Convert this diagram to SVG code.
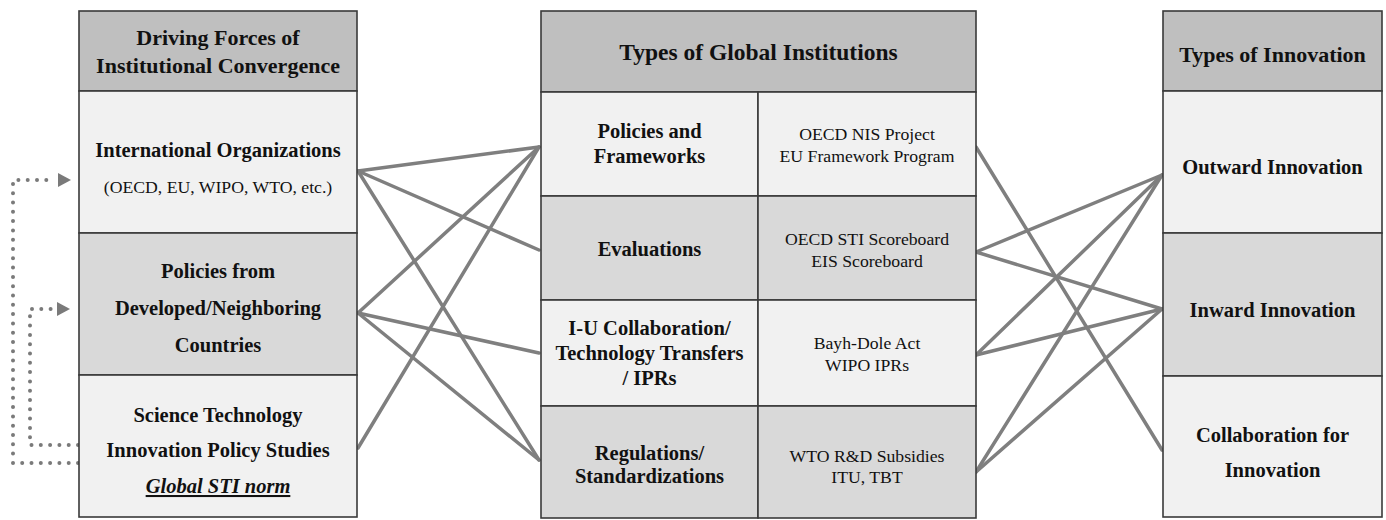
<svg xmlns="http://www.w3.org/2000/svg" width="1386" height="520" viewBox="0 0 1386 520">
<style>
.box{stroke:#3a3a3a;stroke-width:1.6}
.hd{fill:#bfbfbf}
.lt{fill:#f1f1f1}
.md{fill:#d9d9d9}
text{font-family:"Liberation Serif","Times New Roman",serif;fill:#111;text-anchor:middle}
.h{font-weight:bold;font-size:22px}
.b{font-weight:bold;font-size:20.5px}
.r{font-size:17.7px}
.conn line{stroke:#7f7f7f;stroke-width:3.5;stroke-linecap:round}
.dot{fill:none;stroke:#7a7a7a;stroke-width:4;stroke-linecap:round;stroke-dasharray:0 9.3}
.ah{fill:#7a7a7a}
</style>
<rect width="1386" height="520" fill="#ffffff"/>

<g id="connectors" class="conn">
<line x1="358" y1="171" x2="539" y2="147"/>
<line x1="358" y1="171" x2="539" y2="250"/>
<line x1="358" y1="171" x2="539" y2="460"/>
<line x1="358" y1="313" x2="539" y2="147"/>
<line x1="358" y1="313" x2="539" y2="353"/>
<line x1="358" y1="313" x2="539" y2="460"/>
<line x1="358" y1="448" x2="539" y2="147"/>
<line x1="976" y1="147" x2="1162" y2="450"/>
<line x1="976" y1="252" x2="1162" y2="175"/>
<line x1="976" y1="252" x2="1162" y2="309"/>
<line x1="976" y1="355" x2="1162" y2="175"/>
<line x1="976" y1="355" x2="1162" y2="309"/>
<line x1="976" y1="472" x2="1162" y2="175"/>
<line x1="976" y1="472" x2="1162" y2="309"/>
</g>

<g id="feedback">
<path class="dot" d="M78 463 H13 V180 H55"/>
<polygon class="ah" points="58,173 71,180 58,187"/>
<path class="dot" d="M78 445 H30 V309 H52"/>
<polygon class="ah" points="57,302 70,309 57,316"/>
</g>

<g id="left-header">
<rect class="box hd" x="79" y="11" width="278" height="80"/>
<text class="h" x="218" y="45">Driving Forces of</text>
<text class="h" x="218" y="73">Institutional Convergence</text>
</g>
<g id="left-intl">
<rect class="box lt" x="79" y="91" width="278" height="142"/>
<text class="b" x="218" y="157">International Organizations</text>
<text class="r" x="218" y="193">(OECD, EU, WIPO, WTO, etc.)</text>
</g>
<g id="left-policies">
<rect class="box md" x="79" y="233" width="278" height="142"/>
<text class="b" x="218" y="278">Policies from</text>
<text class="b" x="218" y="315">Developed/Neighboring</text>
<text class="b" x="218" y="352">Countries</text>
</g>
<g id="left-sti">
<rect class="box lt" x="79" y="375" width="278" height="142"/>
<text class="b" x="218" y="422">Science Technology</text>
<text class="b" x="218" y="457">Innovation Policy Studies</text>
<text class="b" x="218" y="493" font-style="italic" text-decoration="underline">Global STI norm</text>
</g>

<g id="center-header">
<rect class="box hd" x="541" y="11" width="435" height="81"/>
<text class="h" x="758.5" y="60" style="font-size:23.5px">Types of Global Institutions</text>
</g>
<g id="center-policies">
<rect class="box lt" x="541" y="92" width="217" height="104"/>
<rect class="box lt" x="758" y="92" width="218" height="104"/>
<text class="b" x="649.5" y="138">Policies and</text>
<text class="b" x="649.5" y="163">Frameworks</text>
<text class="r" x="867" y="140">OECD NIS Project</text>
<text class="r" x="867" y="162">EU Framework Program</text>
</g>
<g id="center-evaluations">
<rect class="box md" x="541" y="196" width="217" height="104"/>
<rect class="box md" x="758" y="196" width="218" height="104"/>
<text class="b" x="649.5" y="256">Evaluations</text>
<text class="r" x="867" y="245">OECD STI Scoreboard</text>
<text class="r" x="867" y="267">EIS Scoreboard</text>
</g>
<g id="center-collab">
<rect class="box lt" x="541" y="300" width="217" height="106"/>
<rect class="box lt" x="758" y="300" width="218" height="106"/>
<text class="b" x="649.5" y="335">I-U Collaboration/</text>
<text class="b" x="649.5" y="360">Technology Transfers</text>
<text class="b" x="649.5" y="385">/ IPRs</text>
<text class="r" x="867" y="349">Bayh-Dole Act</text>
<text class="r" x="867" y="371">WIPO IPRs</text>
</g>
<g id="center-regulations">
<rect class="box md" x="541" y="406" width="217" height="112"/>
<rect class="box md" x="758" y="406" width="218" height="112"/>
<text class="b" x="649.5" y="460">Regulations/</text>
<text class="b" x="649.5" y="483">Standardizations</text>
<text class="r" x="867" y="462">WTO R&amp;D Subsidies</text>
<text class="r" x="867" y="483">ITU, TBT</text>
</g>

<g id="right-header">
<rect class="box hd" x="1163" y="11" width="219" height="80"/>
<text class="h" x="1272.5" y="62">Types of Innovation</text>
</g>
<g id="right-outward">
<rect class="box lt" x="1163" y="91" width="219" height="142"/>
<text class="b" x="1272.5" y="174">Outward Innovation</text>
</g>
<g id="right-inward">
<rect class="box md" x="1163" y="233" width="219" height="143"/>
<text class="b" x="1272.5" y="317">Inward Innovation</text>
</g>
<g id="right-collab">
<rect class="box lt" x="1163" y="376" width="219" height="141"/>
<text class="b" x="1272.5" y="442">Collaboration for</text>
<text class="b" x="1272.5" y="477">Innovation</text>
</g>
</svg>
